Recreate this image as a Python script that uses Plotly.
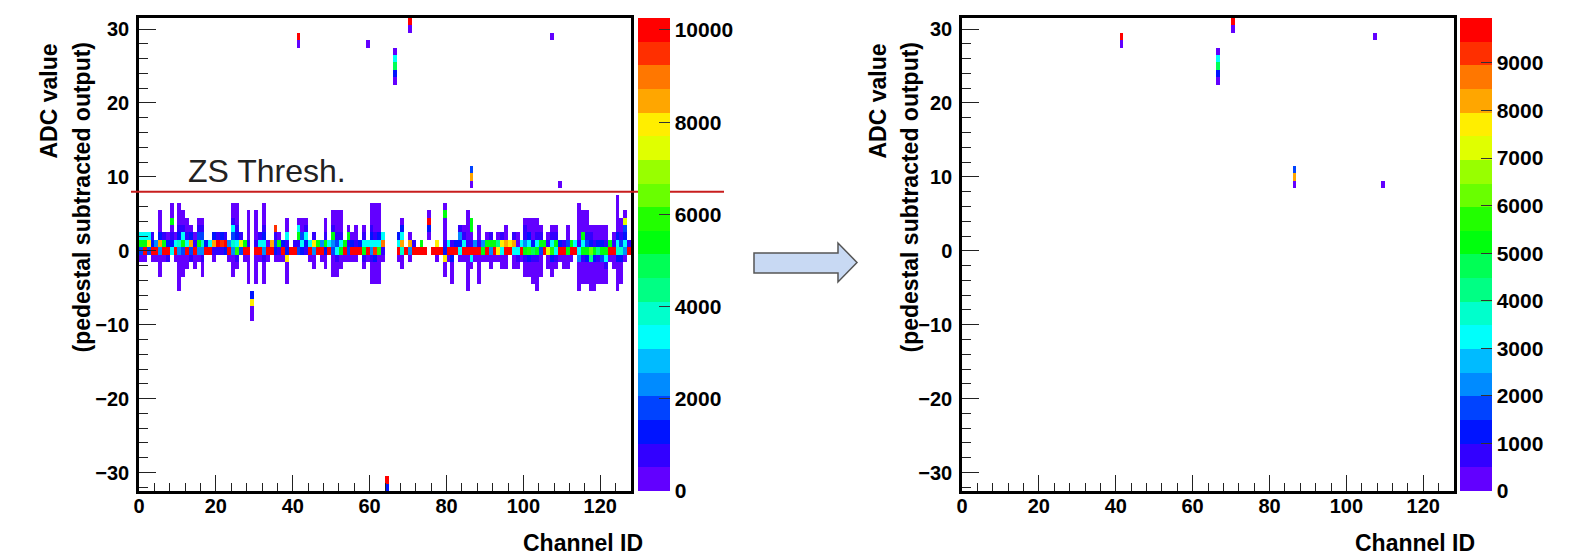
import colorsys
import numpy as np
import plotly.graph_objects as go

W, H = 1581, 560
OFF = 8  # default page margin of the html body

# ---------------- data ----------------
N_CH = 128
ADC_LO, ADC_HI = -32, 31
ZS_THRESH = 8

# left panel (raw): channel -> (first ADC bin, counts going up)
left_cells = {
    0: (-1, [150, 1800, 5400, 3300]),
    1: (-1, [150, 9800, 5400, 3300]),
    2: (0, [1800, 8000, 3300]),
    3: (-1, [150, 9800, 1300, 700]),
    4: (-1, [150, 9800, 2300]),
    5: (-3, [150, 150, 150, 2300, 8500, 1300, 150, 150, 150]),
    6: (-1, [150, 9800, 5400, 700]),
    7: (-1, [700, 9800, 1300, 150]),
    8: (0, [3300, 1300, 700, 150, 5400, 150, 150]),
    9: (-1, [150, 9800, 3300, 150]),
    10: (-5, [150, 150, 150, 150, 150, 2300, 3800, 1300, 700, 150, 150, 150]),
    11: (-3, [150, 150, 150, 1800, 5400, 3300, 700, 150, 150]),
    12: (-2, [150, 150, 9800, 3300, 700, 150, 150]),
    13: (-1, [700, 1800, 8500, 1300, 150]),
    14: (-2, [150, 150, 9800, 700, 150]),
    15: (-1, [150, 2300, 5400, 1800, 700, 150]),
    16: (-3, [150, 150, 700, 2300, 3800, 1800, 700, 150]),
    17: (0, [9800, 1300]),
    18: (0, [9800, 3300]),
    19: (-1, [150, 700, 8500, 1300]),
    20: (0, [700, 9800, 700]),
    21: (0, [700, 9300, 1300]),
    22: (0, [1300, 9800, 700]),
    23: (-1, [150, 9800, 2300]),
    24: (-3, [150, 150, 150, 2300, 3800, 1800, 3300, 700, 150, 150]),
    25: (-2, [150, 700, 5900, 3300, 1300, 700, 150, 150, 150]),
    26: (0, [1800, 7500, 700]),
    27: (-1, [150, 9800, 5400]),
    28: (-4, [150, 150, 150, 150, 9800, 700, 150, 150, 150, 150]),
    29: (-9, [150, 150, 8000, 1300]),
    30: (-4, [150, 150, 150, 150, 9800, 700, 150, 150, 150, 150]),
    31: (-1, [150, 9800, 3300, 700]),
    32: (-4, [150, 150, 150, 700, 2300, 3300, 1300, 700, 150, 150, 150]),
    33: (-1, [150, 9800, 150]),
    34: (0, [9800, 8500]),
    35: (-1, [150, 1300, 1800, 700, 9500]),
    36: (-1, [150, 700, 5400, 150]),
    37: (-1, [150, 9800, 1300]),
    38: (-4, [150, 150, 150, 8000, 1300, 700, 3300, 150, 150]),
    39: (0, [9800]),
    40: (0, [9800, 700]),
    41: (0, [1800, 700, 5400, 3300, 150]),
    42: (0, [1300, 3300, 1800, 150, 150]),
    43: (0, [700, 1300, 3300, 700, 150]),
    44: (-1, [150, 9800, 3300]),
    45: (-2, [150, 150, 2300, 8000, 700]),
    46: (0, [9800, 5400]),
    47: (-1, [150, 9800, 2300]),
    48: (-2, [150, 150, 1300, 5400, 700, 150, 150]),
    49: (0, [9800, 3300]),
    50: (-3, [150, 150, 150, 1800, 2300, 5400, 700, 150, 150]),
    51: (-3, [150, 150, 700, 3300, 1800, 700, 150, 150, 150]),
    52: (-2, [150, 150, 5400, 3300, 700, 150, 150, 150]),
    53: (-1, [150, 9800, 5400]),
    54: (-1, [150, 1800, 700, 5400, 150]),
    55: (-1, [150, 9800, 1300, 150]),
    56: (-1, [150, 9800, 700, 150, 150]),
    57: (0, [9800, 1300]),
    58: (-2, [150, 700, 5400, 3300, 700, 150]),
    59: (-1, [150, 9800, 3300]),
    60: (-4, [150, 150, 150, 700, 2300, 3300, 1300, 700, 150, 150, 150]),
    61: (-4, [150, 150, 150, 1300, 9500, 3300, 700, 150, 150, 150, 150]),
    62: (-4, [150, 150, 150, 150, 5900, 3300, 1300, 150, 150, 150, 150]),
    63: (-1, [150, 700, 9000, 3300]),
    67: (-1, [150, 9800, 3300, 1300]),
    68: (-2, [150, 150, 3800, 8500, 3300, 1300, 150]),
    69: (0, [9800]),
    70: (-1, [150, 2300, 8500, 150]),
    71: (0, [9800, 700]),
    72: (0, [9800]),
    73: (0, [9800, 5400]),
    74: (0, [9800]),
    75: (2, [150, 1300, 9800, 150]),
    76: (0, [9800]),
    77: (-1, [150, 9800, 8000]),
    78: (0, [9800]),
    79: (-3, [150, 150, 8000, 1300, 700, 150, 150, 150, 5400, 150]),
    80: (-1, [150, 9800, 3300]),
    81: (-4, [150, 150, 150, 1300, 9800, 700]),
    82: (0, [9800, 1300]),
    83: (-1, [150, 3300, 1300, 2300, 700]),
    84: (-1, [150, 9800, 3300, 700, 150]),
    85: (-5, [150, 150, 150, 150, 150, 9800, 700, 150, 150, 150, 150]),
    86: (-2, [150, 3300, 9800, 700, 150, 5400, 5400]),
    87: (-1, [150, 9800, 2300]),
    88: (-4, [150, 150, 150, 150, 9800, 700, 150, 150]),
    89: (-1, [150, 5400, 2300]),
    90: (-1, [150, 9800, 5400, 150]),
    91: (-2, [150, 150, 2300, 5400, 700]),
    92: (-1, [150, 9800, 5400]),
    93: (-1, [150, 8000, 4300, 150]),
    94: (-2, [150, 150, 3300, 8000, 700]),
    95: (-2, [150, 150, 9800, 8500, 150, 150]),
    96: (0, [9800, 8000]),
    97: (-2, [150, 150, 3300, 8500, 700]),
    98: (-2, [150, 700, 3300, 150, 150]),
    99: (-1, [150, 9800, 3300]),
    100: (-3, [150, 150, 700, 5400, 2300, 700, 700, 150]),
    101: (-3, [150, 150, 1300, 5900, 3300, 1300, 150, 150]),
    102: (-4, [150, 150, 150, 700, 4900, 1300, 150, 150, 150]),
    103: (-5, [150, 150, 150, 150, 700, 5400, 3300, 700, 150, 150]),
    104: (-3, [150, 150, 150, 1800, 5400, 700, 150]),
    105: (0, [9800, 5400]),
    106: (-2, [150, 150, 7500, 700, 150]),
    107: (-3, [150, 150, 1300, 5900, 3300, 700, 150]),
    108: (-2, [150, 700, 3300, 5400, 700, 150]),
    109: (-1, [150, 9800, 1300]),
    110: (-2, [150, 150, 9800, 700]),
    111: (-2, [150, 150, 5400, 1800, 150, 150]),
    112: (-1, [150, 9800, 5400]),
    113: (0, [9800, 3300]),
    114: (-5, [150, 150, 150, 150, 2300, 3300, 700, 150, 150, 150, 150, 150]),
    115: (-4, [150, 150, 150, 700, 5400, 3300, 5400, 150, 150, 150]),
    116: (-4, [150, 150, 150, 1300, 5400, 1800, 700, 150, 150, 150]),
    117: (-5, [150, 150, 150, 150, 4300, 6400, 1300, 700, 150]),
    118: (-5, [150, 150, 150, 150, 1300, 5400, 700, 150, 150]),
    119: (-4, [150, 150, 150, 700, 4300, 1300, 150, 150]),
    120: (-4, [150, 150, 150, 1800, 5400, 1300, 150, 150]),
    121: (-4, [150, 150, 700, 3300, 5400, 700, 150, 150]),
    122: (-1, [150, 9800, 5400]),
    123: (-2, [150, 150, 9800, 700, 150]),
    124: (-5, [150, 150, 150, 150, 1300, 3800, 3300, 1300, 150, 150, 150, 150, 150]),
    125: (-4, [150, 150, 150, 1300, 3800, 1800, 700, 150, 150]),
    126: (-1, [150, 2300, 3300, 1300, 1800, 7500, 150]),
    127: (0, [9800, 700]),
}

# hits above the zero-suppression threshold: (channel, first ADC bin, counts)
signal_cells_left = [
    (41, 28, [150, 10000]),
    (59, 28, [150]),
    (66, 23, [150, 1300, 4900, 3300, 150]),
    (70, 30, [150, 10000]),
    (86, 9, [150, 8500, 1800]),
    (107, 29, [150]),
    (109, 9, [150]),
    (64, -32, [1300, 10000]),
]
signal_cells_right = [
    (41, 28, [150, 9900]),
    (66, 23, [150, 1300, 4900, 3300, 150]),
    (70, 30, [150, 9900]),
    (86, 9, [150, 8400, 1800]),
    (107, 29, [150]),
    (109, 9, [150]),
]

ZMAX_LEFT = 10260
ZMAX_RIGHT = 9945
cbar_ticks_left = [0, 2000, 4000, 6000, 8000, 10000]
cbar_ticks_right = [0, 1000, 2000, 3000, 4000, 5000, 6000, 7000, 8000, 9000]
x_ticks = [0, 20, 40, 60, 80, 100, 120]
y_ticks = [-30, -20, -10, 0, 10, 20, 30]

# ---------------- build histograms ----------------
adc_bins = list(range(ADC_LO, ADC_HI + 1))
channels = [c + 0.5 for c in range(N_CH)]


def build(cells_list):
    z = np.full((len(adc_bins), N_CH), np.nan)
    for ch, start, counts in cells_list:
        for k, v in enumerate(counts):
            z[start + k - ADC_LO, ch] = v
    return [[None if np.isnan(v) else float(v) for v in row] for row in z]


left_list = [(ch, s, cnt) for ch, (s, cnt) in left_cells.items()] + signal_cells_left
z_left = build(left_list)
z_right = build(signal_cells_right)

# ROOT "pretty" palette (hue 280 -> 0), 20 contour levels
ncol, ndiv = 50, 20
cols = []
for i in range(ndiv):
    idx = int((i + 0.99) * ncol / ndiv)
    hue = 280 - (idx + 1) * (280 / ncol)
    r, g, b = colorsys.hls_to_rgb(hue / 360, 0.5, 1.0)
    cols.append(f"rgb({int(r*255)},{int(g*255)},{int(b*255)})")
cscale = []
for i, c in enumerate(cols):
    cscale.append([i / ndiv, c])
    cscale.append([(i + 1) / ndiv, c])


def px(x):
    return (x - OFF) / W


def py(y):
    return 1 - (y - OFF) / H


TOP, BOT = 18, 491
L1, R1 = 139, 631
L2, R2 = 962, 1454

FONT = "Liberation Sans, Arial, Helvetica, sans-serif"
tickfont = dict(family=FONT, size=20, color="black", weight="bold")
cbfont = dict(family=FONT, size=21, color="black", weight="bold")

fig = go.Figure()

for (zz, xa, ya, zmax, cbx, ticks) in [
    (z_left, "x", "y", ZMAX_LEFT, 638, cbar_ticks_left),
    (z_right, "x2", "y2", ZMAX_RIGHT, 1460, cbar_ticks_right),
]:
    fig.add_trace(go.Heatmap(
        x=channels, y=adc_bins, z=zz, xaxis=xa, yaxis=ya,
        colorscale=cscale, zmin=0, zmax=zmax, zsmooth=False,
        hoverongaps=False,
        colorbar=dict(
            x=px(cbx), xanchor="left", y=py(TOP), yanchor="top",
            len=(BOT - TOP) / H, lenmode="fraction",
            thickness=32, thicknessmode="pixels",
            xpad=0, ypad=0, outlinewidth=0,
            ticks="inside", ticklen=11, tickwidth=1, tickcolor="#333",
            tickvals=ticks, ticktext=[str(t) for t in ticks],
            tickfont=cbfont,
        ),
    ))

axis_common = dict(
    showgrid=False, zeroline=False, showline=True, linecolor="black",
    linewidth=2.5, mirror=True, ticks="inside", tickcolor="#222",
    tickwidth=1, tickfont=tickfont,
)
xminor = dict(dtick=4, ticklen=8, ticks="inside", tickcolor="#222")
yminor = dict(dtick=2, ticklen=9, ticks="inside", tickcolor="#222")
fig.update_layout(
    width=W, height=H, autosize=False,
    margin=dict(l=0, r=0, t=0, b=0, autoexpand=False),
    paper_bgcolor="white", plot_bgcolor="white",
    showlegend=False,
    xaxis=dict(domain=[px(L1), px(R1)], range=[0, N_CH], anchor="y",
               tickvals=x_ticks, ticklen=16, ticklabelstandoff=-5, minor=xminor,
               **axis_common),
    yaxis=dict(domain=[py(BOT), py(TOP)], range=[ADC_LO - 0.5, ADC_HI + 0.5], anchor="x",
               tickvals=y_ticks, ticklen=17, ticklabelstandoff=3, minor=yminor,
               **axis_common),
    xaxis2=dict(domain=[px(L2), px(R2)], range=[0, N_CH], anchor="y2",
                tickvals=x_ticks, ticklen=16, ticklabelstandoff=-5, minor=xminor,
                **axis_common),
    yaxis2=dict(domain=[py(BOT), py(TOP)], range=[ADC_LO - 0.5, ADC_HI + 0.5], anchor="x2",
                tickvals=y_ticks, ticklen=17, ticklabelstandoff=3, minor=yminor,
                **axis_common),
)

# threshold line + label
fig.add_shape(type="line", xref="paper", yref="y", x0=px(131), x1=px(724),
              y0=ZS_THRESH, y1=ZS_THRESH, line=dict(color="rgb(200,30,30)", width=2))
fig.add_annotation(text="ZS Thresh.", xref="paper", yref="paper", x=px(186), y=py(191),
                   xanchor="left", yanchor="bottom", showarrow=False,
                   font=dict(family=FONT, size=32, color="#222"))

# axis titles
for xl1, xl2, xr in [(48, 81, 645), (877, 909, 1477)]:
    fig.add_annotation(text="<b>ADC value</b>", xref="paper", yref="paper",
                       x=px(xl1), y=py(42), xanchor="center", yanchor="top",
                       textangle=-90, showarrow=False,
                       font=dict(family=FONT, size=23, color="black"))
    fig.add_annotation(text="<b>(pedestal subtracted output)</b>", xref="paper", yref="paper",
                       x=px(xl2), y=py(40), xanchor="center", yanchor="top",
                       textangle=-90, showarrow=False,
                       font=dict(family=FONT, size=23, color="black"))
    fig.add_annotation(text="<b>Channel ID</b>", xref="paper", yref="paper",
                       x=px(xr), y=py(543), xanchor="right", yanchor="middle",
                       showarrow=False, font=dict(family=FONT, size=23, color="black"))

# arrow between panels
pts = [(754, 253), (838, 253), (838, 243), (857, 262.5), (838, 282), (838, 273), (754, 273)]
path = "M " + " L ".join(f"{px(a):.5f},{py(b):.5f}" for a, b in pts) + " Z"
fig.add_shape(type="path", xref="paper", yref="paper", path=path,
              fillcolor="rgb(200,217,243)", line=dict(color="#555", width=1.5))

fig.write_html("out.html")
